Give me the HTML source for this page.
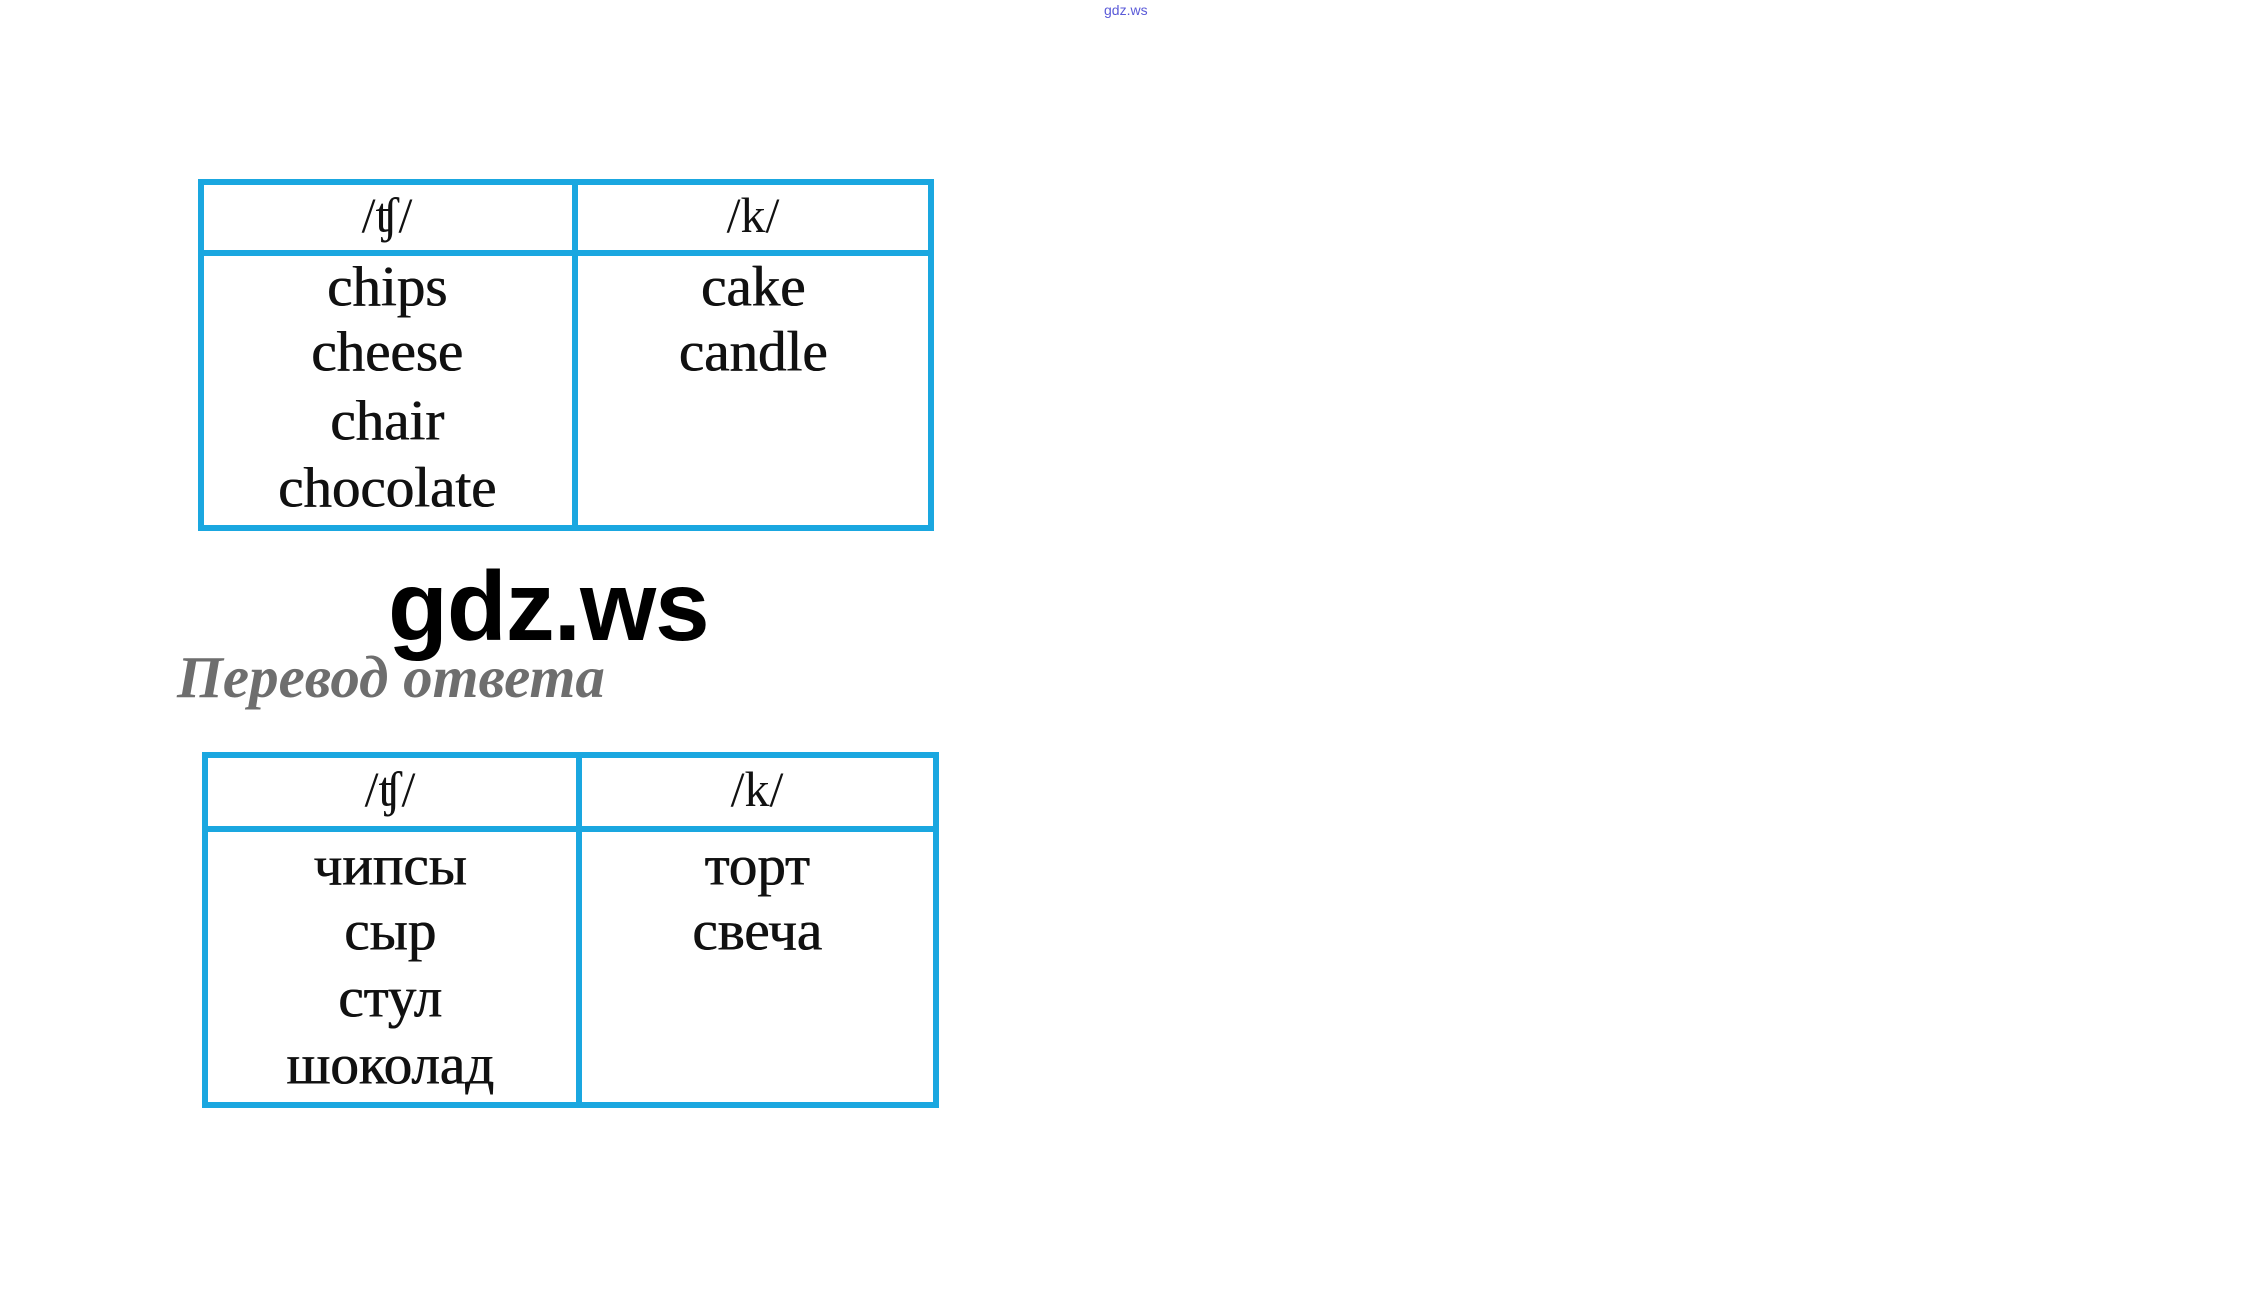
<!DOCTYPE html>
<html><head><meta charset="utf-8"><style>
body{margin:0;width:2262px;height:1291px;background:#fff;position:relative;overflow:hidden}
.t{position:absolute;border:6px solid #1aa7e0;box-sizing:border-box}
.v,.h{position:absolute;background:#1aa7e0}
.w{position:absolute;font-family:"Liberation Serif",serif;font-size:57px;color:#111;transform:translate(-50%,-50%) scaleX(1.0);white-space:nowrap;line-height:1;text-shadow:0.8px 0 0 #111}
</style></head><body>
<div style="position:absolute;left:1104px;top:2px;font:14px 'Liberation Sans',sans-serif;color:#5a5ad8">gdz.ws</div>

<div class="t" style="left:198px;top:179px;width:736px;height:352px"></div>
<div class="v" style="left:572px;top:179px;width:6px;height:352px"></div>
<div class="h" style="left:198px;top:250px;width:736px;height:6px"></div>
<div class="w" style="left:387px;top:215px;font-size:50px;text-shadow:none">/ʧ/</div>
<div class="w" style="left:753px;top:215px;font-size:50px;text-shadow:none">/k/</div>
<div class="w" style="left:387px;top:287px">chips</div>
<div class="w" style="left:387px;top:352px">cheese</div>
<div class="w" style="left:387px;top:421px">chair</div>
<div class="w" style="left:387px;top:488px">chocolate</div>
<div class="w" style="left:753px;top:287px">cake</div>
<div class="w" style="left:753px;top:352px">candle</div>

<div style="position:absolute;left:388px;top:557px;font:bold 98px 'Liberation Sans',sans-serif;color:#000;line-height:1;letter-spacing:-1px">gdz.ws</div>
<div style="position:absolute;left:177px;top:648px;font:italic bold 59px 'Liberation Serif',serif;color:#6e6e6e;line-height:1">Перевод ответа</div>

<div class="t" style="left:202px;top:752px;width:737px;height:356px"></div>
<div class="v" style="left:576px;top:752px;width:6px;height:356px"></div>
<div class="h" style="left:202px;top:826px;width:737px;height:6px"></div>
<div class="w" style="left:390px;top:789px;font-size:50px;text-shadow:none">/ʧ/</div>
<div class="w" style="left:757px;top:789px;font-size:50px;text-shadow:none">/k/</div>
<div class="w" style="left:390px;top:866px">чипсы</div>
<div class="w" style="left:390px;top:931px">сыр</div>
<div class="w" style="left:390px;top:998px">стул</div>
<div class="w" style="left:390px;top:1065px">шоколад</div>
<div class="w" style="left:757px;top:866px">торт</div>
<div class="w" style="left:757px;top:931px">свеча</div>
</body></html>
